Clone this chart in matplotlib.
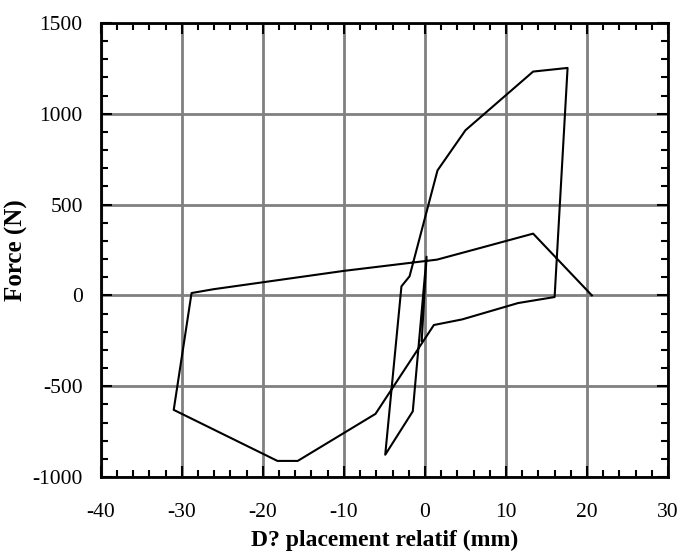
import numpy as np
import matplotlib
matplotlib.use('Agg')
import matplotlib.pyplot as plt
from matplotlib.ticker import MultipleLocator

plt.rcParams['font.family'] = ['Liberation Serif', 'DejaVu Serif']
plt.rcParams['axes.unicode_minus'] = False

# deplacement (mm) / force (N), in path order
depl = [-0.4, 0.2, -1.5, -4.9, -2.9, -1.9, 1.55, 5.0, 13.35, 17.6, 16.0, 11.5,
        4.6, 1.1, -6.1, -15.7, -18.2, -31.0, -28.8, -26.1, -10.0, 1.5, 6.9,
        13.35, 20.6]
force = [-250, 213, -638, -877, 50, 105, 688, 909, 1232, 1252, -9, -42,
         -132, -163, -652, -911, -911, -630, 13, 34, 135, 197, 262,
         340, 0]

fig = plt.figure(figsize=(6.81, 5.58), dpi=100)
ax = fig.add_axes([0.148, 0.145, 0.833, 0.814])

ax.plot(depl, force, color='black', linewidth=1.5, zorder=3)

ax.set_xlim(-40, 30)
ax.set_ylim(-1000, 1500)
ax.xaxis.set_major_locator(MultipleLocator(10))
ax.xaxis.set_minor_locator(MultipleLocator(2))
ax.yaxis.set_major_locator(MultipleLocator(500))
ax.yaxis.set_minor_locator(MultipleLocator(100))

ax.grid(True, which='major', color='#808080', linewidth=2.0)
ax.get_xgridlines()[1].set_linewidth(3.0)
ax.set_axisbelow(True)

ax.tick_params(which='both', direction='in', top=True, right=True,
               labelsize=15.5, width=1.5)
ax.tick_params(axis='x', which='major', pad=19)
ax.tick_params(axis='y', which='major', pad=13)
ax.tick_params(which='major', length=8)
ax.tick_params(which='minor', length=5)
for s in ax.spines.values():
    s.set_linewidth(2)

ax.set_xlabel("D? placement relatif (mm)", fontsize=17, fontweight='bold', labelpad=5)
ax.set_ylabel("Force (N)", fontsize=18, fontweight='bold')
ax.yaxis.set_label_coords(-0.148, 0.5)
ax.yaxis.label.set_va('center')
ax.yaxis.label.set_ha('center')

plt.savefig('out.png', dpi=100)
